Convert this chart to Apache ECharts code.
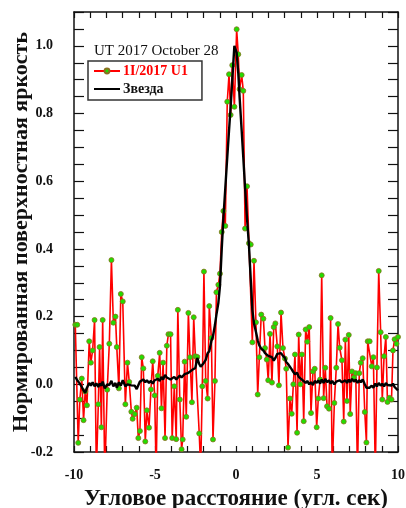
<!DOCTYPE html>
<html>
<head>
<meta charset="utf-8">
<script src="https://cdn.jsdelivr.net/npm/echarts@6/dist/echarts.min.js"></script>
<style>
  html, body { margin: 0; padding: 0; background: #fff; }
  #main { width: 406px; height: 508px; }
</style>
</head>
<body>
<div id="main"></div>
<script>
// угловое расстояние (угл. сек), общая сетка отсчётов
var offsets = [-9.92,-9.80,-9.74,-9.64,-9.52,-9.41,-9.31,-9.20,-9.06,-8.96,-8.85,-8.73,-8.62,-8.50,-8.42,-8.31,-8.23,-8.10,-7.95,-7.82,
  -7.69,-7.57,-7.44,-7.36,-7.23,-7.11,-6.99,-6.83,-6.70,-6.59,-6.46,-6.38,-6.25,-6.13,-6.03,-5.93,-5.82,-5.72,-5.60,-5.50,
  -5.37,-5.25,-5.14,-5.02,-4.93,-4.83,-4.71,-4.60,-4.50,-4.38,-4.27,-4.17,-4.04,-3.94,-3.81,-3.69,-3.59,-3.47,-3.36,-3.29,
  -3.17,-3.07,-2.94,-2.84,-2.72,-2.61,-2.51,-2.39,-2.27,-2.18,-2.08,-1.98,-1.87,-1.75,-1.65,-1.52,-1.42,-1.30,-1.21,-1.09,
  -0.99,-0.88,-0.78,-0.66,-0.54,-0.43,-0.33,-0.23,-0.10,0.04,0.14,0.22,0.35,0.45,0.56,0.68,0.80,0.91,1.01,1.11,
  1.23,1.34,1.44,1.56,1.69,1.79,1.90,1.99,2.10,2.22,2.33,2.43,2.55,2.65,2.78,2.90,3.02,3.10,3.21,3.33,
  3.44,3.54,3.64,3.77,3.87,3.97,4.07,4.18,4.30,4.40,4.52,4.63,4.75,4.86,4.98,5.08,5.19,5.29,5.41,5.51,
  5.62,5.74,5.84,5.94,6.07,6.19,6.30,6.40,6.54,6.65,6.75,6.85,6.96,7.05,7.16,7.28,7.39,7.50,7.61,7.70,
  7.82,7.95,8.05,8.13,8.25,8.38,8.48,8.60,8.70,8.81,8.93,9.03,9.14,9.25,9.35,9.47,9.60,9.69,9.79,9.91,10.0];

// 1I/2017 U1
var cometValues = [0.176,0.176,-0.173,-0.045,0.017,-0.106,-0.021,-0.062,0.127,0.064,0.100,0.190,-0.260,-0.059,0.110,-0.127,0.190,-0.270,-0.016,0.120,
  0.367,0.182,0.200,0.110,-0.012,0.267,0.245,-0.059,0.064,0.007,-0.081,-0.102,-0.088,-0.069,-0.159,-0.138,0.080,0.047,-0.169,-0.077,
  -0.128,-0.015,0.068,-0.033,-0.260,0.025,0.093,-0.071,0.064,-0.159,0.114,0.148,0.148,-0.159,-0.006,-0.162,0.220,-0.045,-0.192,-0.163,
  0.067,-0.096,0.211,0.080,-0.053,0.198,0.083,0.081,-0.145,-0.250,-0.006,0.333,0.010,-0.042,0.231,0.137,-0.163,0.010,0.272,0.294,
  0.327,0.450,0.512,0.468,0.835,0.916,0.796,0.943,0.820,1.049,0.975,0.872,0.914,0.867,0.460,0.585,0.417,0.413,0.124,0.365,
  0.183,-0.030,0.080,0.206,0.194,0.107,0.073,0.012,0.149,0.005,0.169,0.180,0.112,-0.003,0.212,0.107,0.076,0.046,-0.187,-0.042,
  -0.087,0.000,0.088,-0.143,0.147,0.000,0.088,-0.109,0.162,0.126,0.169,-0.085,0.038,0.046,-0.127,-0.042,0.014,0.322,-0.041,0.049,
  -0.065,-0.072,0.196,-0.260,-0.055,0.049,0.178,0.108,0.071,-0.110,0.132,-0.049,0.146,-0.088,0.038,0.020,0.033,-0.260,0.033,0.064,
  0.077,-0.082,-0.172,0.127,0.127,0.053,0.080,-0.260,0.050,0.335,0.154,-0.045,0.083,0.140,-0.052,-0.040,-0.045,0.100,0.133,0.120,0.140];

// Звезда
var starValues = [0.022,0.012,0.008,0.002,-0.008,-0.018,-0.025,-0.010,0.004,-0.004,0.006,-0.006,0.003,-0.008,0.002,-0.004,0.008,-0.012,0.000,-0.002,
  0.010,-0.006,0.004,-0.010,0.006,-0.004,0.012,-0.006,0.000,0.004,-0.003,0.002,-0.004,-0.014,-0.003,0.008,0.004,0.014,0.006,0.012,
  0.004,0.010,0.002,0.012,0.008,0.016,0.010,0.022,0.014,0.028,0.020,0.024,0.014,0.012,0.022,0.014,0.018,0.026,0.020,0.024,
  0.030,0.026,0.034,0.038,0.042,0.040,0.048,0.078,0.060,0.052,0.056,0.064,0.072,0.092,0.098,0.128,0.142,0.175,0.205,0.240,
  0.290,0.400,0.490,0.580,0.670,0.750,0.820,0.900,1.000,0.980,0.920,0.850,0.750,0.670,0.580,0.490,0.410,0.310,0.220,0.180,
  0.155,0.130,0.115,0.105,0.100,0.092,0.094,0.084,0.086,0.080,0.070,0.078,0.090,0.088,0.092,0.084,0.078,0.066,0.060,0.058,
  0.044,0.036,0.030,0.034,0.022,0.018,0.014,0.012,0.004,0.010,0.000,0.006,-0.002,0.010,0.004,0.012,0.002,0.014,0.004,0.016,
  0.006,0.012,0.002,0.010,0.000,0.008,0.004,0.012,0.006,0.002,0.012,0.004,0.014,0.006,0.016,0.008,0.014,0.004,0.012,0.006,
  0.014,0.000,-0.010,-0.008,-0.010,-0.004,-0.010,0.002,-0.006,0.004,-0.004,0.002,-0.006,0.004,-0.002,0.002,-0.004,0.002,-0.008,-0.012,-0.018];

var cometName = '1I/2017 U1';
var starName = 'Звезда';
var dateLabel = 'UT 2017 October 28';

var serif = '"Liberation Serif", "DejaVu Serif", serif';

var chart = echarts.init(document.getElementById('main'));

function pairs(ys) {
    return offsets.map(function (x, i) { return [x, ys[i]]; });
}

// подписи только у кратных шагу
function everyNth(step, digits) {
    return function (v) {
        var k = v / step;
        if (Math.abs(k - Math.round(k)) < 1e-6) {
            return v.toFixed(digits);
        }
        return '';
    };
}

var frameLine = { show: true, onZero: false, lineStyle: { color: '#111', width: 1.5 } };

var option = {
    backgroundColor: '#fff',
    animation: false,
    title: {
        text: dateLabel,
        left: 89,
        top: 39,
        textStyle: { fontFamily: serif, fontSize: 15, fontWeight: 'normal', color: '#111' }
    },
    legend: {
        orient: 'vertical',
        left: 88,
        top: 61,
        padding: [3, 14, 4, 5],
        itemGap: 4,
        itemWidth: 26,
        itemHeight: 6,
        borderColor: '#333',
        borderWidth: 1.5,
        data: [
            { name: cometName, textStyle: { color: '#ff0000', fontWeight: 'bold' } },
            { name: starName, textStyle: { color: '#111', fontWeight: 'bold' },
              itemStyle: { color: 'rgba(0,0,0,0)', borderWidth: 0 } }
        ],
        textStyle: { fontFamily: serif, fontSize: 14, padding: [0, 0, 0, -2] }
    },
    grid: { left: 74, right: 8, top: 12, bottom: 56, outerBoundsMode: 'none', containLabel: false },
    xAxis: [{
        type: 'value',
        min: -10,
        max: 10,
        interval: 1,
        name: 'Угловое расстояние (угл. сек)',
        nameLocation: 'middle',
        nameGap: 36,
        nameTextStyle: { fontFamily: serif, fontSize: 23, fontWeight: 'bold', color: '#111' },
        axisLine: frameLine,
        axisTick: { inside: true, length: 6, lineStyle: { color: '#111', width: 1.2 } },
        axisLabel: { formatter: everyNth(5, 0), margin: 16, fontFamily: serif, fontSize: 14, fontWeight: 'bold', color: '#111' },
        splitLine: { show: false }
    }, {
        type: 'value',
        position: 'top',
        min: -10,
        max: 10,
        interval: 1,
        axisLine: frameLine,
        axisTick: { inside: true, length: 6, lineStyle: { color: '#111', width: 1.2 } },
        axisLabel: { show: false },
        splitLine: { show: false }
    }],
    yAxis: [{
        type: 'value',
        min: -0.2,
        max: 1.1,
        interval: 0.05,
        name: 'Нормированная поверхностная яркость',
        nameLocation: 'middle',
        nameGap: 42,
        nameMoveOverlap: false,
        nameTextStyle: { fontFamily: serif, fontSize: 22, fontWeight: 'bold', color: '#111' },
        axisLine: frameLine,
        axisTick: { inside: true, length: 10, lineStyle: { color: '#111', width: 1.2 } },
        axisLabel: { formatter: everyNth(0.2, 1), margin: 21, fontFamily: serif, fontSize: 14, fontWeight: 'bold', color: '#111' },
        splitLine: { show: false }
    }, {
        type: 'value',
        position: 'right',
        min: -0.2,
        max: 1.1,
        interval: 0.05,
        axisLine: frameLine,
        axisTick: { inside: true, length: 10, lineStyle: { color: '#111', width: 1.2 } },
        axisLabel: { show: false },
        splitLine: { show: false }
    }],
    series: [{
        name: cometName,
        type: 'line',
        data: pairs(cometValues),
        symbol: 'circle',
        symbolSize: 5,
        showAllSymbol: true,
        clip: true,
        lineStyle: { color: '#ff0000', width: 1.6 },
        itemStyle: { color: '#22dd00', borderColor: '#8a7020', borderWidth: 0.8 },
        z: 2
    }, {
        name: starName,
        type: 'line',
        data: pairs(starValues),
        symbol: 'none',
        clip: true,
        lineStyle: { color: '#000', width: 2.4 },
        itemStyle: { color: '#000' },
        z: 3
    }]
};

chart.setOption(option);
</script>
</body>
</html>
